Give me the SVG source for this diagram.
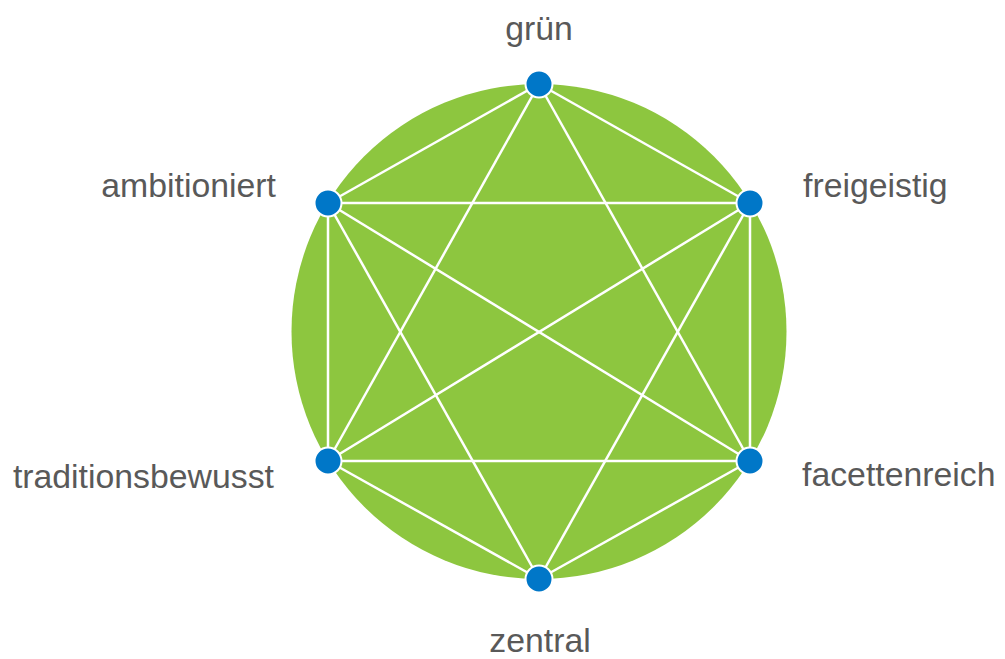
<svg xmlns="http://www.w3.org/2000/svg" width="1005" height="659" viewBox="0 0 1005 659">
<style>
.lbl{font-family:"Liberation Sans",Arial,sans-serif;font-size:33.8px;fill:#595959}
.edge{stroke:#ffffff;stroke-width:2.5;fill:none}
.dot{fill:#0077C8;stroke:#ffffff;stroke-width:2}
</style>
<rect width="1005" height="659" fill="#ffffff"/>
<circle id="disc" cx="539" cy="331.5" r="247.5" fill="#8DC63F"/>
<g id="connectors">
<line class="edge" x1="539" y1="84" x2="750" y2="203"/>
<line class="edge" x1="539" y1="84" x2="328" y2="203"/>
<line class="edge" x1="539" y1="84" x2="328" y2="461"/>
<line class="edge" x1="539" y1="84" x2="750" y2="461"/>
<line class="edge" x1="328" y1="203" x2="750" y2="203"/>
<line class="edge" x1="328" y1="461" x2="750" y2="461"/>
<line class="edge" x1="328" y1="203" x2="328" y2="461"/>
<line class="edge" x1="750" y1="203" x2="750" y2="461"/>
<line class="edge" x1="328" y1="203" x2="750" y2="461"/>
<line class="edge" x1="750" y1="203" x2="328" y2="461"/>
<line class="edge" x1="328" y1="203" x2="539" y2="579"/>
<line class="edge" x1="750" y1="203" x2="539" y2="579"/>
<line class="edge" x1="328" y1="461" x2="539" y2="579"/>
<line class="edge" x1="750" y1="461" x2="539" y2="579"/>
</g>
<g id="n-gruen"><circle class="dot" cx="539" cy="84" r="13.5"/><text class="lbl" x="539" y="40" text-anchor="middle">grün</text></g>
<g id="n-freigeistig"><circle class="dot" cx="750" cy="203" r="13.5"/><text class="lbl" x="803" y="197">freigeistig</text></g>
<g id="n-facettenreich"><circle class="dot" cx="750" cy="461" r="13.5"/><text class="lbl" x="802" y="486">facettenreich</text></g>
<g id="n-zentral"><circle class="dot" cx="539" cy="579" r="13.5"/><text class="lbl" x="540" y="652" text-anchor="middle">zentral</text></g>
<g id="n-traditionsbewusst"><circle class="dot" cx="328" cy="461" r="13.5"/><text class="lbl" x="274" y="488" text-anchor="end">traditionsbewusst</text></g>
<g id="n-ambitioniert"><circle class="dot" cx="328" cy="203" r="13.5"/><text class="lbl" x="276" y="197" text-anchor="end">ambitioniert</text></g>
</svg>
